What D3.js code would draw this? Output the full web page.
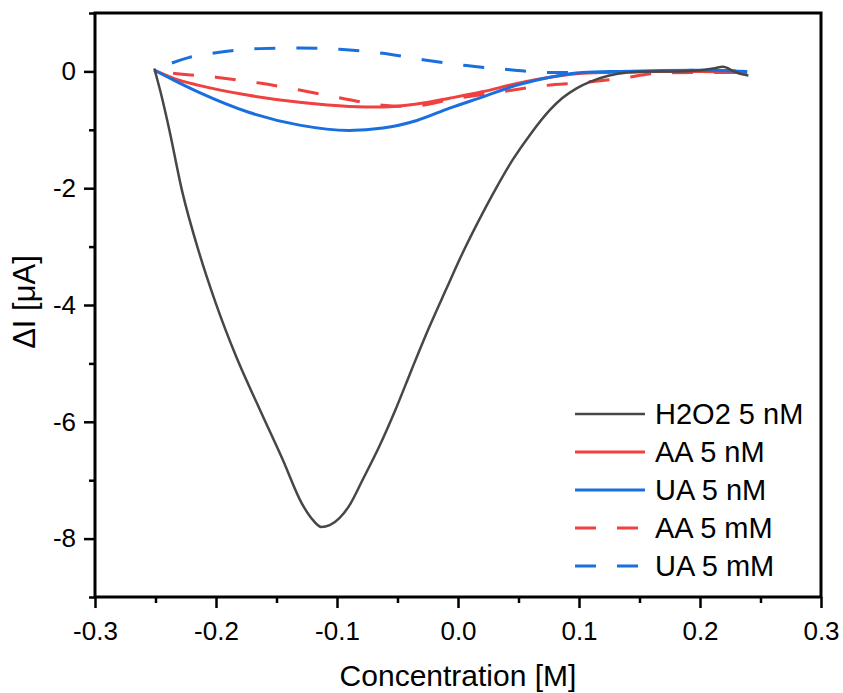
<!DOCTYPE html>
<html>
<head>
<meta charset="utf-8">
<script src="https://cdn.jsdelivr.net/npm/d3@7"></script>
<style>
body { margin: 0; background: #fff; }
text { font-family: "Liberation Sans", Arial, sans-serif; fill: #000; }
</style>
</head>
<body>
<svg id="chart"></svg>
<script>
const margin = {t: 13, r: 22, b: 96, l: 95};
const size = {w: 843, h: 693};

// DATA
const xTickValues = [-0.3, -0.2, -0.1, 0.0, 0.1, 0.2, 0.3];
const xTickLabels = ['-0.3', '-0.2', '-0.1', '0.0', '0.1', '0.2', '0.3'];
const xMinorTicks = [-0.25, -0.15, -0.05, 0.05, 0.15, 0.25];
const yTickValues = [0, -2, -4, -6, -8];
const yTickLabels = ['0', '-2', '-4', '-6', '-8'];
const yMinorTicks = [1, -1, -3, -5, -7, -9];

const seriesNames = ['H2O2 5 nM', 'AA 5 nM', 'UA 5 nM', 'AA 5 mM', 'UA 5 mM'];
const seriesColors = ['#474747', '#f14040', '#1a6fdf', '#f14040', '#1a6fdf'];
const seriesDashed = [false, false, false, true, true];

const h2o2X = [-0.251, -0.245, -0.239, -0.228, -0.214, -0.200, -0.183, -0.164, -0.145, -0.129, -0.120, -0.113, -0.106, -0.098, -0.090, -0.079, -0.065, -0.051, -0.038, -0.024, -0.010, 0.004, 0.018, 0.032, 0.045, 0.059, 0.076, 0.086, 0.098, 0.109, 0.125, 0.140, 0.160, 0.180, 0.200, 0.211, 0.219, 0.228, 0.235, 0.240];
const h2o2Y = [0.05, -0.42, -0.96, -2.05, -3.10, -3.98, -4.90, -5.78, -6.64, -7.40, -7.68, -7.80, -7.77, -7.65, -7.44, -7.00, -6.42, -5.76, -5.09, -4.39, -3.74, -3.10, -2.52, -1.98, -1.52, -1.10, -0.66, -0.46, -0.29, -0.18, -0.07, -0.02, 0.0, 0.0, 0.02, 0.05, 0.08, 0.0, -0.05, -0.07];

const aaNmX = [-0.251, -0.235, -0.214, -0.173, -0.131, -0.090, -0.062, -0.034, -0.007, 0.020, 0.048, 0.076, 0.103, 0.134, 0.167, 0.200, 0.239];
const aaNmY = [0.02, -0.12, -0.24, -0.41, -0.53, -0.60, -0.61, -0.56, -0.46, -0.35, -0.21, -0.10, -0.03, -0.01, 0.0, 0.0, -0.02];

const uaNmX = [-0.251, -0.235, -0.214, -0.173, -0.131, -0.090, -0.062, -0.034, -0.007, 0.020, 0.048, 0.076, 0.103, 0.134, 0.200, 0.239];
const uaNmY = [0.02, -0.15, -0.36, -0.70, -0.92, -1.01, -0.97, -0.84, -0.63, -0.44, -0.24, -0.10, -0.02, 0.0, 0.02, 0.0];

const aaMmX = [-0.251, -0.236, -0.200, -0.164, -0.131, -0.096, -0.062, -0.040, -0.001, 0.032, 0.073, 0.103, 0.134, 0.167, 0.200, 0.239];
const aaMmY = [0.02, -0.03, -0.10, -0.20, -0.32, -0.46, -0.58, -0.60, -0.46, -0.36, -0.24, -0.19, -0.12, -0.03, -0.02, -0.02];

const uaMmX = [-0.251, -0.237, -0.222, -0.200, -0.164, -0.131, -0.098, -0.062, -0.029, 0.007, 0.043, 0.076, 0.117, 0.158, 0.200, 0.239];
const uaMmY = [0.02, 0.14, 0.24, 0.32, 0.39, 0.40, 0.38, 0.31, 0.20, 0.10, 0.03, -0.02, -0.02, 0.0, 0.02, 0.0];

const seriesX = [h2o2X, aaNmX, uaNmX, aaMmX, uaMmX];
const seriesY = [h2o2Y, aaNmY, uaNmY, aaMmY, uaMmY];

const svg = d3.select('svg#chart')
    .attr('width', size.w)
    .attr('height', size.h);

const w = size.w - margin.l - margin.r;
const h = size.h - margin.t - margin.b;

const containerG = svg.append('g')
    .attr('transform', `translate(${margin.l}, ${margin.t})`);

const x = d3.scaleLinear().domain([-0.3, 0.3]).range([0, w]);
const y = d3.scaleLinear().domain([-9, 1]).range([h, 0]);

//AXES
function styleAxis(g) {
    g.select('.domain').remove();
    g.selectAll('line').attr('stroke', '#000').attr('stroke-width', 2.5);
}

containerG.append('g')
    .attr('transform', `translate(0, ${h})`)
    .call(d3.axisBottom(x).tickValues(xMinorTicks).tickSize(6).tickFormat(''))
    .call(styleAxis);

containerG.append('g')
    .attr('transform', `translate(0, ${h})`)
    .call(d3.axisBottom(x).tickValues(xTickValues).tickSize(11).tickPadding(14)
        .tickFormat((d, i) => xTickLabels[i]))
    .call(styleAxis)
    .selectAll('text')
    .attr('font-size', 26);

containerG.append('g')
    .call(d3.axisLeft(y).tickValues(yMinorTicks).tickSize(6).tickFormat(''))
    .call(styleAxis);

containerG.append('g')
    .call(d3.axisLeft(y).tickValues(yTickValues).tickSize(11).tickPadding(8)
        .tickFormat((d, i) => yTickLabels[i]))
    .call(styleAxis)
    .selectAll('text')
    .attr('font-size', 26);

//LINES
const line = d3.line()
    .x(d => x(d[0]))
    .y(d => y(d[1]))
    .curve(d3.curveMonotoneX);

const drawOrder = [3, 4, 1, 2, 0];
drawOrder.forEach(i => {
    const pts = seriesX[i].map((v, k) => [v, seriesY[i][k]]);
    containerG.append('path')
        .datum(pts)
        .attr('d', line)
        .attr('fill', 'none')
        .attr('stroke', seriesColors[i])
        .attr('stroke-width', i === 0 ? 2.5 : 3)
        .attr('stroke-linejoin', 'round')
        .attr('stroke-dasharray', seriesDashed[i] ? '21,21' : null)
        .attr('stroke-dashoffset', seriesDashed[i] ? 23 : null);
});

//FRAME
containerG.append('rect')
    .attr('x', 0)
    .attr('y', 0)
    .attr('width', w)
    .attr('height', h)
    .attr('fill', 'none')
    .attr('stroke', '#000')
    .attr('stroke-width', 3);

//LEGEND
const legendG = containerG.append('g')
    .attr('transform', `translate(${w - 246}, ${h - 183})`);

const legendRows = legendG.selectAll('g')
    .data(seriesNames)
    .join('g')
    .attr('transform', (d, i) => `translate(0, ${i * 38})`);

legendRows.append('line')
    .attr('x1', 0)
    .attr('x2', 70)
    .attr('stroke', (d, i) => seriesColors[i])
    .attr('stroke-width', (d, i) => i === 0 ? 2.5 : 3)
    .attr('stroke-dasharray', (d, i) => seriesDashed[i] ? '21,21' : null);

legendRows.append('text')
    .attr('x', 80)
    .attr('dy', '0.36em')
    .attr('font-size', 29)
    .text(d => d);

//AXIS TITLES
svg.append('text')
    .attr('x', margin.l + w / 2)
    .attr('y', 686)
    .attr('text-anchor', 'middle')
    .attr('font-size', 30)
    .text('Concentration [M]');

svg.append('text')
    .attr('transform', `translate(35, ${margin.t + h / 2 - 3}) rotate(-90)`)
    .attr('text-anchor', 'middle')
    .attr('font-size', 31)
    .text('ΔI [μA]');
</script>
</body>
</html>
